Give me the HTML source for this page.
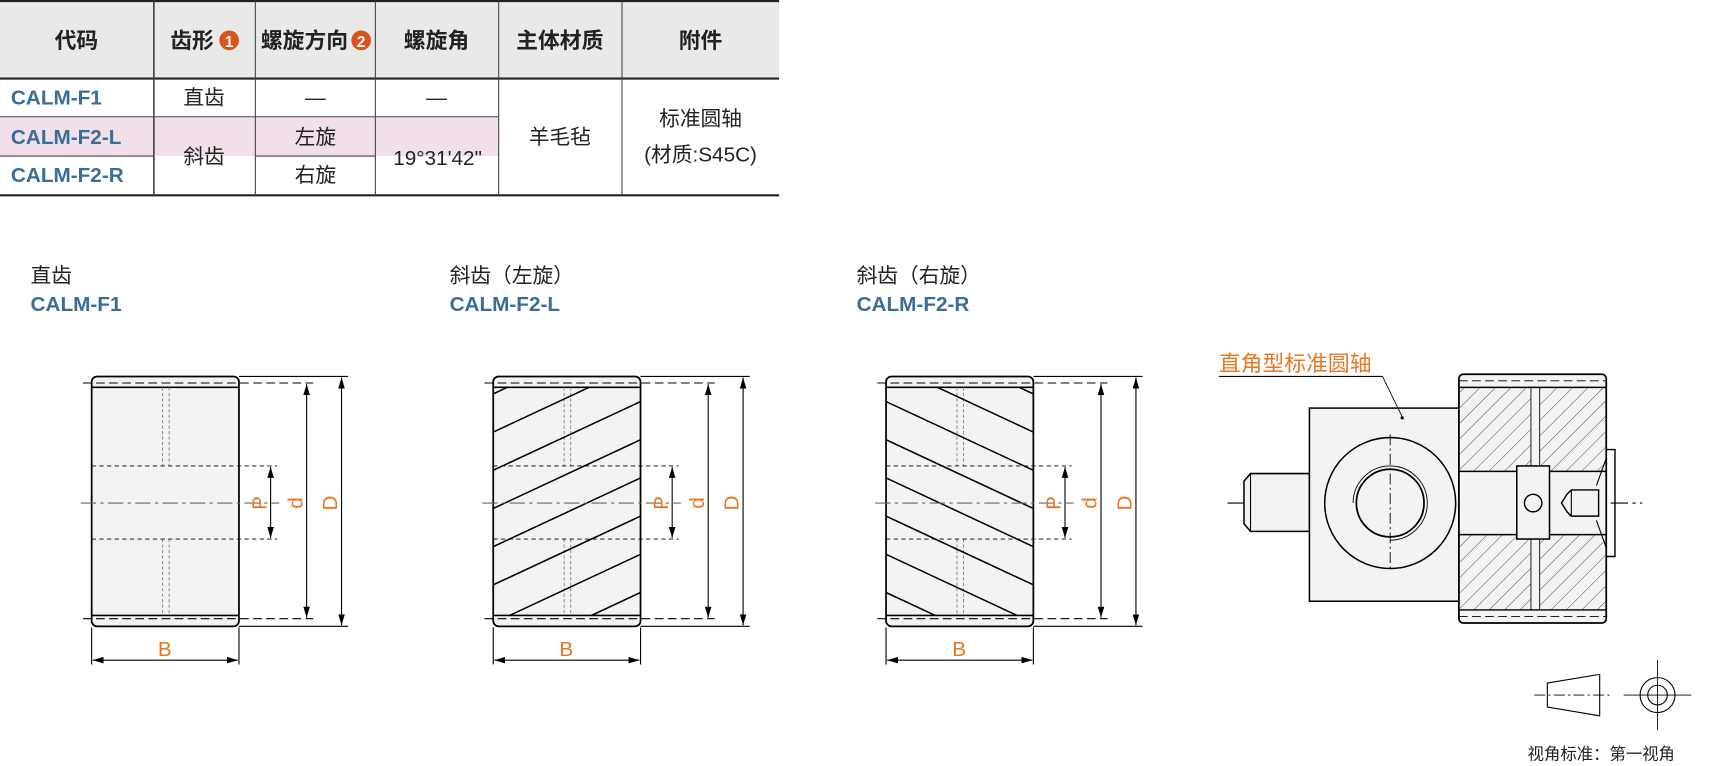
<!DOCTYPE html>
<html><head><meta charset="utf-8"><style>
html,body{margin:0;padding:0;background:#fff;}
svg{display:block;}
text{font-family:"Liberation Sans","Noto Sans CJK SC",sans-serif;}
.cn{font-family:"Noto Sans CJK SC","WenQuanYi Zen Hei",sans-serif;}
</style></head><body>
<svg width="1711" height="766" viewBox="0 0 1568 702" preserveAspectRatio="none" xmlns="http://www.w3.org/2000/svg">
<defs>
<marker id="ar" viewBox="0 0 10 10" refX="10" refY="5" markerWidth="10" markerHeight="10" orient="auto-start-reverse" markerUnits="userSpaceOnUse"><path d="M0,2 L10,5 L0,8 z" fill="#000"/></marker>
<clipPath id="gc"><rect x="0" y="355" width="135" height="209"/></clipPath>
<pattern id="hatch" width="10" height="10" patternUnits="userSpaceOnUse" patternTransform="rotate(45)"><line x1="0" y1="0" x2="0" y2="10" stroke="#333" stroke-width="0.8"/></pattern>
<g id="dims">
 <line x1="135" y1="345" x2="235" y2="345" stroke="#000" stroke-width="1"/>
 <line x1="135" y1="574" x2="235" y2="574" stroke="#000" stroke-width="1"/>
 <line x1="-8" y1="351" x2="203" y2="351" stroke="#000" stroke-width="1" stroke-dasharray="8,4"/>
 <line x1="-8" y1="567" x2="203" y2="567" stroke="#000" stroke-width="1" stroke-dasharray="8,4"/>
 <line x1="0" y1="427" x2="170" y2="427" stroke="#000" stroke-width="0.8" stroke-dasharray="4,3"/>
 <line x1="0" y1="494" x2="170" y2="494" stroke="#000" stroke-width="0.8" stroke-dasharray="4,3"/>
 <line x1="-10" y1="461" x2="172" y2="461" stroke="#666" stroke-width="1" stroke-dasharray="14,4,3,4"/>
 <line x1="164" y1="428" x2="164" y2="493" stroke="#000" marker-start="url(#ar)" marker-end="url(#ar)"/>
 <line x1="197" y1="352" x2="197" y2="566" stroke="#000" marker-start="url(#ar)" marker-end="url(#ar)"/>
 <line x1="229" y1="346" x2="229" y2="573" stroke="#000" marker-start="url(#ar)" marker-end="url(#ar)"/>
 <line x1="0" y1="575" x2="0" y2="609" stroke="#000"/>
 <line x1="135" y1="575" x2="135" y2="609" stroke="#000"/>
 <line x1="1" y1="605" x2="134" y2="605" stroke="#000" marker-start="url(#ar)" marker-end="url(#ar)"/>
 <text x="67" y="601" font-size="19" fill="#e87722" text-anchor="middle">B</text>
 <text transform="translate(160,461) rotate(-90)" font-size="19" fill="#e87722" text-anchor="middle">P</text>
 <text transform="translate(193,461) rotate(-90)" font-size="19" fill="#e87722" text-anchor="middle">d</text>
 <text transform="translate(225,461) rotate(-90)" font-size="19" fill="#e87722" text-anchor="middle">D</text>
</g>
<g id="body">
 <rect x="0" y="345" width="135" height="229" rx="5" fill="#f3f3f3" stroke="#000" stroke-width="1.6"/>
 <line x1="0" y1="355" x2="135" y2="355" stroke="#000" stroke-width="1.5"/>
 <line x1="0" y1="564" x2="135" y2="564" stroke="#000" stroke-width="1.5"/>
 <g stroke="#888" stroke-width="0.9" stroke-dasharray="3,2">
  <line x1="65" y1="355" x2="65" y2="427"/><line x1="71" y1="355" x2="71" y2="427"/>
  <line x1="65" y1="494" x2="65" y2="564"/><line x1="71" y1="494" x2="71" y2="564"/>
 </g>
</g>
<g id="helix" clip-path="url(#gc)" stroke="#000" stroke-width="1.4">
 <line x1="0" y1="291" x2="135" y2="228"/><line x1="0" y1="326" x2="135" y2="263"/>
 <line x1="0" y1="361" x2="135" y2="298"/><line x1="0" y1="396" x2="135" y2="333"/>
 <line x1="0" y1="431" x2="135" y2="368"/><line x1="0" y1="466" x2="135" y2="403"/>
 <line x1="0" y1="501" x2="135" y2="438"/><line x1="0" y1="536" x2="135" y2="473"/>
 <line x1="0" y1="571" x2="135" y2="508"/><line x1="0" y1="606" x2="135" y2="543"/>
 <line x1="0" y1="641" x2="135" y2="578"/><line x1="0" y1="676" x2="135" y2="613"/>
</g>
</defs>

<!-- TABLE -->
<rect x="0" y="0" width="714" height="72" fill="#e9e9e9"/>
<rect x="0" y="107" width="457" height="36" fill="#f1dfe9"/>
<line x1="0" y1="1" x2="714" y2="1" stroke="#222" stroke-width="2"/>
<line x1="0" y1="72" x2="714" y2="72" stroke="#222" stroke-width="2"/>
<line x1="0" y1="179" x2="714" y2="179" stroke="#222" stroke-width="2"/>
<g stroke="#444" stroke-width="1">
<line x1="141" y1="1" x2="141" y2="179" stroke-width="1.5"/>
<line x1="234" y1="1" x2="234" y2="179"/><line x1="344" y1="1" x2="344" y2="179"/>
<line x1="457" y1="1" x2="457" y2="179"/><line x1="570" y1="1" x2="570" y2="179"/>
<line x1="0" y1="107" x2="457" y2="107"/>
<line x1="0" y1="143" x2="141" y2="143"/><line x1="234" y1="143" x2="344" y2="143"/>
</g>
<g class="cn" font-size="20" font-weight="bold" fill="#222" text-anchor="middle">
<text x="70" y="44">代码</text>
<text x="176" y="44">齿形</text>
<text x="279" y="44">螺旋方向</text>
<text x="400" y="44">螺旋角</text>
<text x="513" y="44">主体材质</text>
<text x="642" y="44">附件</text>
</g>
<g class="cn" font-size="19" fill="#222" text-anchor="middle">
<text x="187" y="96">直齿</text>
<text x="187" y="150">斜齿</text>
<text x="289" y="96">—</text>
<text x="400" y="96">—</text>
<text x="289" y="132">左旋</text>
<text x="289" y="167">右旋</text>
<text x="513" y="132">羊毛毡</text>
<text x="642" y="115">标准圆轴</text>
<text x="642" y="148">(材质:S45C)</text>
</g>
<text x="401" y="151" font-size="19" fill="#222" text-anchor="middle">19°31'42"</text>
<circle cx="210" cy="37" r="9" fill="#d9531e"/><text x="210" y="43" font-size="14" font-weight="bold" fill="#fff" text-anchor="middle">1</text>
<circle cx="331" cy="37" r="9" fill="#d9531e"/><text x="331" y="43" font-size="14" font-weight="bold" fill="#fff" text-anchor="middle">2</text>
<g font-size="19" font-weight="bold" fill="#3a6e96">
<text x="10" y="96">CALM-F1</text><text x="10" y="132">CALM-F2-L</text><text x="10" y="167">CALM-F2-R</text>
</g>

<!-- TITLES -->
<g class="cn" font-size="19" fill="#222">
<text x="28" y="259">直齿</text><text x="412" y="259">斜齿（左旋）</text><text x="785" y="259">斜齿（右旋）</text>
</g>
<g font-size="19" font-weight="bold" fill="#3a6e96">
<text x="28" y="285">CALM-F1</text><text x="412" y="285">CALM-F2-L</text><text x="785" y="285">CALM-F2-R</text>
</g>

<!-- GEARS -->
<g transform="translate(84,0)"><use href="#body"/><use href="#dims"/></g>
<g transform="translate(452,0)"><use href="#body"/><use href="#helix"/><use href="#dims"/></g>
<g transform="translate(812,0)"><use href="#body"/><g transform="translate(135,0) scale(-1,1)"><use href="#helix"/></g><use href="#dims"/></g>

<!-- RIGHT ASSEMBLY -->
<line x1="1125" y1="461" x2="1505" y2="461" stroke="#000" stroke-width="1" stroke-dasharray="16,4,3,4"/>
<path d="M1146,434 L1200,434 L1200,487 L1146,487 L1140,480 L1140,441 Z" fill="#f3f3f3" stroke="#000" stroke-width="1.4"/>
<line x1="1146" y1="434" x2="1146" y2="487" stroke="#000"/>
<rect x="1200" y="374" width="137" height="177" fill="#f3f3f3" stroke="#000" stroke-width="1.4"/>
<circle cx="1274" cy="461" r="60" fill="#f3f3f3" stroke="#000" stroke-width="1.4"/>
<path d="M1240,461 A34,34 0 1 1 1274,495" fill="none" stroke="#000" stroke-width="0.8"/>
<circle cx="1274" cy="461" r="31" fill="#f3f3f3" stroke="#000" stroke-width="1.6"/>
<line x1="1274" y1="398" x2="1274" y2="524" stroke="#000" stroke-width="0.8" stroke-dasharray="10,3,2,3"/>
<rect x="1337" y="343" width="135" height="228" rx="4" fill="#f3f3f3" stroke="#000" stroke-width="1.6"/>
<rect x="1337" y="355" width="135" height="77" fill="url(#hatch)"/>
<rect x="1337" y="490" width="135" height="69" fill="url(#hatch)"/>
<rect x="1403" y="355" width="8" height="77" fill="#f3f3f3" stroke="#000" stroke-width="0.8"/>
<rect x="1403" y="490" width="8" height="69" fill="#f3f3f3" stroke="#000" stroke-width="0.8"/>
<line x1="1337" y1="355" x2="1472" y2="355" stroke="#000" stroke-width="1.3"/>
<line x1="1337" y1="559" x2="1472" y2="559" stroke="#000" stroke-width="1.3"/>
<line x1="1337" y1="349" x2="1472" y2="349" stroke="#000" stroke-width="0.8" stroke-dasharray="8,4"/>
<line x1="1337" y1="565" x2="1472" y2="565" stroke="#000" stroke-width="0.8" stroke-dasharray="8,4"/>
<line x1="1337" y1="432" x2="1472" y2="432" stroke="#000" stroke-width="1.4"/>
<line x1="1337" y1="490" x2="1472" y2="490" stroke="#000" stroke-width="1.4"/>
<rect x="1390" y="427" width="30" height="67" fill="#f3f3f3" stroke="#000" stroke-width="1.4"/>
<circle cx="1405" cy="461" r="8" fill="none" stroke="#000" stroke-width="1.3"/>
<path d="M1440,449 L1465,449 L1465,473 L1440,473 L1436,469 L1431,461 L1436,453 Z" fill="#f3f3f3" stroke="#000" stroke-width="1.3"/>
<line x1="1440" y1="449" x2="1440" y2="473" stroke="#000"/>
<path d="M1472,412 L1480,412 L1480,510 L1472,510" fill="none" stroke="#000" stroke-width="1.3"/>
<path d="M1472,420 L1463,445 M1472,502 L1463,477" stroke="#000" stroke-width="1"/>
<text x="1117" y="340" class="cn" font-size="20" fill="#e87722">直角型标准圆轴</text>
<line x1="1117" y1="345" x2="1267" y2="345" stroke="#000" stroke-width="1"/>
<line x1="1267" y1="345" x2="1285" y2="382" stroke="#000" stroke-width="0.8"/>
<circle cx="1285" cy="383" r="1.5" fill="#000"/>

<!-- VIEW SYMBOL -->
<line x1="1406" y1="637" x2="1478" y2="637" stroke="#000" stroke-width="0.8" stroke-dasharray="10,3,2,3"/>
<path d="M1418,626 L1466,618 L1466,656 L1418,648 Z" fill="none" stroke="#000" stroke-width="1"/>
<line x1="1488" y1="637" x2="1550" y2="637" stroke="#000" stroke-width="0.8"/>
<line x1="1519" y1="605" x2="1519" y2="669" stroke="#000" stroke-width="0.8"/>
<circle cx="1519" cy="637" r="16" fill="none" stroke="#000" stroke-width="1"/>
<circle cx="1519" cy="637" r="9" fill="none" stroke="#000" stroke-width="1"/>
<text x="1400" y="696" class="cn" font-size="15" fill="#222">视角标准：第一视角</text>
</svg>
</body></html>
